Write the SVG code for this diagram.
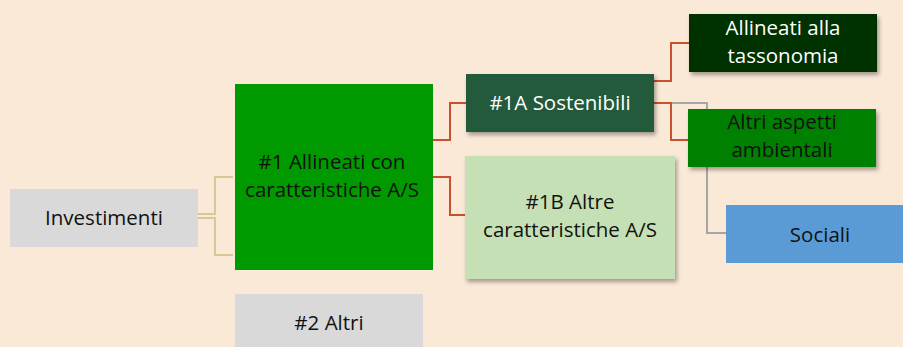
<svg xmlns="http://www.w3.org/2000/svg" width="903" height="347" viewBox="0 0 903 347">
<defs>
<filter id="sh" x="-10%" y="-20%" width="130%" height="160%">
<feDropShadow dx="2" dy="3" stdDeviation="2" flood-color="#000" flood-opacity="0.35"/>
</filter>
</defs>
<style>
text{font-family:"Open Sans","Noto Sans","Liberation Sans",sans-serif;font-size:20.5px;text-anchor:middle}
.w{fill:#ffffff}
.k{fill:#111111}
.tan{fill:none;stroke:#d6c998;stroke-width:2}
.red{fill:none;stroke:#c9502e;stroke-width:2}
.gray{fill:none;stroke:#a6a6a6;stroke-width:2}
</style>
<rect width="903" height="347" fill="#fbe9d8"/>
<g id="connectors">
<path class="tan" d="M198,214 H215 V177 H233"/>
<path class="tan" d="M198,218 H215 V255 H233"/>
<path class="red" d="M433,140 H450 V103 H466"/>
<path class="red" d="M433,177 H450 V215 H465"/>
<path class="gray" d="M654,103 H707 V233 H726"/>
<path class="red" d="M654,81 H671 V43 H689"/>
<path class="red" d="M654,103 H671 V140 H688"/>
</g>
<g id="investimenti">
<rect x="10" y="189" width="188" height="58" fill="#d9d9d9"/>
<text class="k" x="104" y="225">Investimenti</text>
</g>
<g id="n1">
<rect x="235" y="84" width="198" height="186" fill="#009900"/>
<text class="k" x="332" y="169">#1 Allineati con</text>
<text class="k" x="332" y="197">caratteristiche A/S</text>
</g>
<g id="n2">
<rect x="235" y="294" width="188" height="60" fill="#d9d9d9"/>
<text class="k" x="329" y="330">#2 Altri</text>
</g>
<g id="n1a">
<rect x="466" y="74" width="188" height="58" fill="#245a3a" filter="url(#sh)"/>
<text class="w" x="560" y="110">#1A Sostenibili</text>
</g>
<g id="n1b">
<rect x="465" y="156" width="210" height="123" fill="#c5e0b4" filter="url(#sh)"/>
<text class="k" x="570" y="209">#1B Altre</text>
<text class="k" x="570" y="237">caratteristiche A/S</text>
</g>
<g id="tax">
<rect x="689" y="14" width="188" height="58" fill="#003300" filter="url(#sh)"/>
<text class="w" x="783" y="35">Allineati alla</text>
<text class="w" x="783" y="63">tassonomia</text>
</g>
<g id="amb">
<rect x="688" y="109" width="188" height="58" fill="#008000" filter="url(#sh)"/>
<text class="k" x="782" y="129">Altri aspetti</text>
<text class="k" x="782" y="157">ambientali</text>
</g>
<g id="soc">
<rect x="726" y="205" width="190" height="58" fill="#5b9bd5"/>
<text class="k" x="820" y="242">Sociali</text>
</g>
</svg>
